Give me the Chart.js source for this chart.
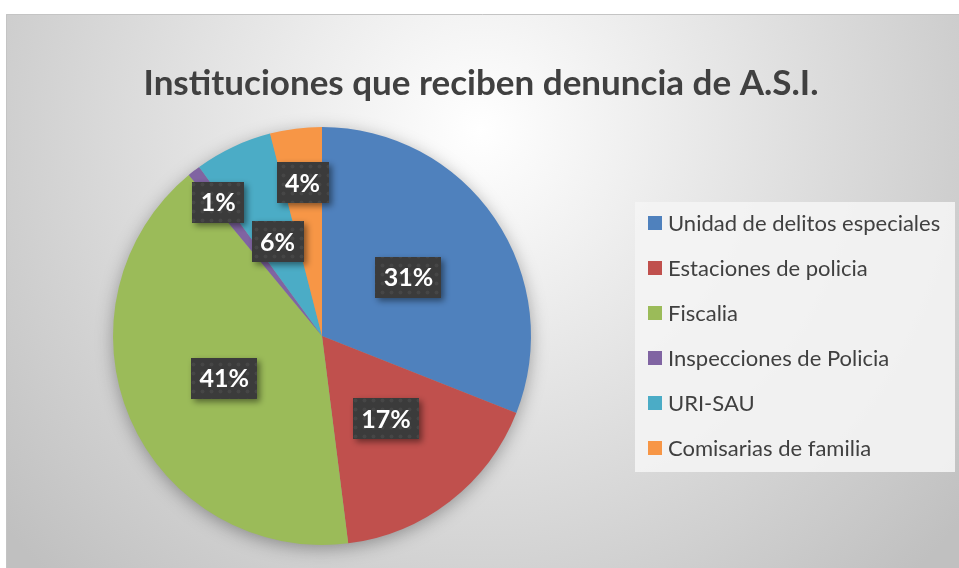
<!DOCTYPE html>
<html>
<head>
<meta charset="utf-8">
<title>Instituciones que reciben denuncia de A.S.I.</title>
<script src="https://cdn.jsdelivr.net/npm/chart.js@4.4.1/dist/chart.umd.min.js"></script>
<style>
  html, body { margin: 0; padding: 0; background: #fff; }
  #wrap { width: 959px; height: 568px; position: relative; }
</style>
</head>
<body>
<div id="wrap"><canvas id="asiChart"></canvas></div>
<script>
// Instituciones que reciben denuncia (porcentaje)
var instituciones = ['Unidad de delitos especiales', 'Estaciones de policia', 'Fiscalia', 'Inspecciones de Policia', 'URI-SAU', 'Comisarias de familia'];
var porcentajes = [31, 17, 41, 1, 6, 4];
var colores = ['#4f81bd', '#c0504d', '#9bbb59', '#8064a2', '#4bacc6', '#f79646'];
var titulo = 'Instituciones que reciben denuncia de A.S.I.';

// how far out (fraction of radius) each percentage box sits
var distEtiqueta = [0.5, 0.5, 0.51, 0.81, 0.5, 0.74];

// grey radial background + frame
var fondo = {
    id: 'fondo',
    beforeDraw: function(chart) {
        var c = chart.ctx;
        c.save();
        c.fillStyle = '#fff';
        c.fillRect(0, 0, chart.width, chart.height);
        var g = c.createRadialGradient(480, 130, 0, 480, 130, 620);
        g.addColorStop(0, '#ffffff');
        g.addColorStop(1, '#c0c0c0');
        c.fillStyle = g;
        c.fillRect(6, 14, chart.width - 6, chart.height - 14);
        c.strokeStyle = '#c4c4c4';
        c.lineWidth = 1;
        c.beginPath();
        c.moveTo(6.5, chart.height);
        c.lineTo(6.5, 14.5);
        c.lineTo(chart.width, 14.5);
        c.stroke();
        c.restore();
    }
};

// soft shadow under the pie
var sombra = {
    id: 'sombra',
    beforeDatasetsDraw: function(chart) {
        var arc = chart.getDatasetMeta(0).data[0];
        if (!arc) return;
        var c = chart.ctx;
        c.save();
        c.shadowColor = 'rgba(0,0,0,0.35)';
        c.shadowBlur = 18;
        c.shadowOffsetY = 4;
        c.fillStyle = '#999';
        c.beginPath();
        c.arc(arc.x, arc.y, arc.outerRadius - 1, 0, Math.PI * 2);
        c.fill();
        c.restore();
    }
};

// dotted dark texture for the value boxes
var patron = (function() {
    var p = document.createElement('canvas');
    p.width = 9; p.height = 9;
    var x = p.getContext('2d');
    x.fillStyle = '#3b3b3b';
    x.fillRect(0, 0, 9, 9);
    x.fillStyle = 'rgba(255,255,255,0.06)';
    x.beginPath();
    x.arc(4.5, 4.5, 2, 0, Math.PI * 2);
    x.fill();
    return p;
})();

var etiquetas = {
    id: 'etiquetas',
    afterDatasetsDraw: function(chart) {
        var c = chart.ctx;
        var meta = chart.getDatasetMeta(0);
        var relleno = c.createPattern(patron, 'repeat');
        c.save();
        c.font = 'bold 25px Lato';
        c.textAlign = 'center';
        c.textBaseline = 'middle';
        meta.data.forEach(function(arc, i) {
            var p = arc.getProps(['x', 'y', 'startAngle', 'endAngle', 'outerRadius']);
            var a = (p.startAngle + p.endAngle) / 2;
            var r = p.outerRadius * distEtiqueta[i];
            var cx = p.x + Math.cos(a) * r;
            var cy = p.y + Math.sin(a) * r;
            var txt = porcentajes[i] + '%';
            var w = Math.round(c.measureText(txt).width + 17), h = 41;
            c.save();
            c.shadowColor = 'rgba(0,0,0,0.45)';
            c.shadowBlur = 6;
            c.shadowOffsetX = 3;
            c.shadowOffsetY = 3;
            c.fillStyle = relleno;
            c.fillRect(Math.round(cx - w / 2), Math.round(cy - h / 2), w, h);
            c.restore();
            c.fillStyle = '#ffffff';
            c.fillText(txt, cx, cy + 1);
        });
        c.restore();
    }
};

// legend box on the right + title
var leyenda = {
    id: 'leyenda',
    afterDraw: function(chart) {
        var c = chart.ctx;
        var cols = chart.data.datasets[0].backgroundColor;
        c.save();
        c.fillStyle = 'rgba(244,244,244,0.9)';
        c.fillRect(635, 202, 320, 270);
        c.font = '22px Lato';
        c.textBaseline = 'middle';
        c.textAlign = 'left';
        instituciones.forEach(function(nombre, i) {
            var y = 223 + i * 45;
            c.fillStyle = cols[i];
            c.fillRect(648, y - 7, 14, 14);
            c.fillStyle = '#404040';
            c.fillText(nombre, 668, y + 1);
        });

        c.font = 'bold 35px Lato';
        c.textAlign = 'center';
        c.fillStyle = '#404040';
        c.fillText(titulo, 481, 84);
        c.restore();
    }
};

var ctx = document.getElementById('asiChart').getContext('2d');
var asiChart = new Chart(ctx, {
    type: 'pie',
    data: {
        labels: instituciones,
        datasets: [{
            data: porcentajes,
            backgroundColor: colores,
            borderWidth: 0
        }]
    },
    options: {
        responsive: true,
        maintainAspectRatio: false,
        animation: false,
        layout: {
            padding: { top: 127, bottom: 23, left: 10, right: 325 }
        },
        plugins: {
            legend: { display: false },
            tooltip: { enabled: false },
            title: { display: false }
        }
    },
    plugins: [fondo, sombra, etiquetas, leyenda]
});
</script>
</body>
</html>
